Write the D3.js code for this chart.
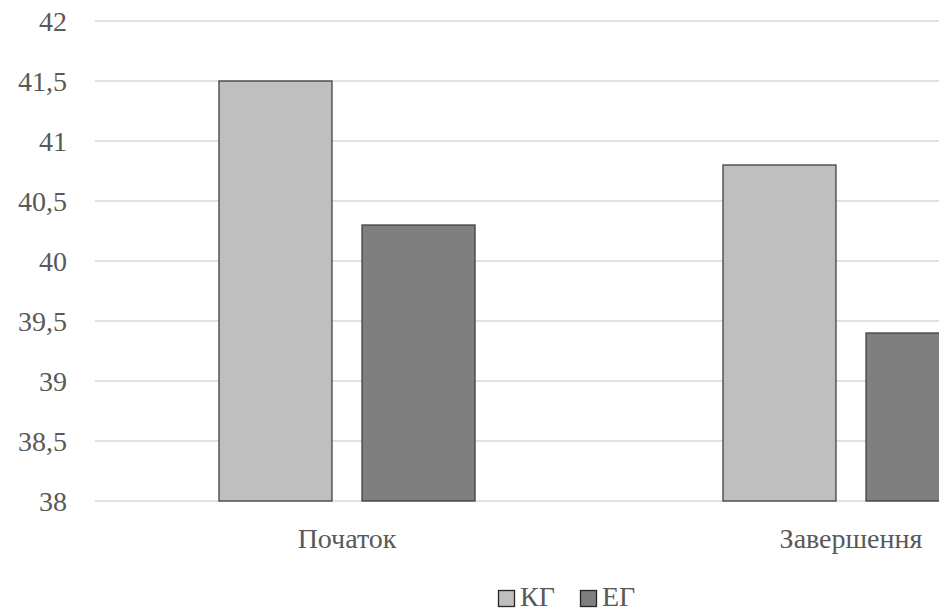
<!DOCTYPE html>
<html>
<head>
<meta charset="utf-8">
<script src="https://cdn.jsdelivr.net/npm/d3@7"></script>
<style>
  html, body { margin: 0; padding: 0; background: #fff; overflow: hidden; }
  svg { display: block; }
</style>
</head>
<body>
<svg id="chart" width="939" height="611"></svg>
<script>
// Measurement stages and groups
const categories = ["Початок", "Завершення"];
const seriesNames = ["КГ", "ЕГ"];
const kgValues = [41.5, 40.8];
const egValues = [40.3, 39.4];
const yTicks = [38, 38.5, 39, 39.5, 40, 40.5, 41, 41.5, 42];

const seriesColors = { "КГ": "#bfbfbf", "ЕГ": "#7f7f7f" };
const rows = categories.map((c, i) => ({ category: c, values: { "КГ": kgValues[i], "ЕГ": egValues[i] } }));

const FONT = "'Liberation Serif', 'Times New Roman', serif";
const TEXT_COLOR = "#595959";
const FONT_SIZE = 28;

const svg = d3.select("#chart");
const plot = { left: 95, right: 1103, top: 21, bottom: 501 };

const y = d3.scaleLinear().domain([38, 42]).range([plot.bottom, plot.top]);
const x0 = d3.scaleBand().domain(categories).range([plot.left, plot.right])
  .paddingInner(0.492).paddingOuter(0.246);
const x1 = d3.scaleBand().domain(seriesNames).range([0, x0.bandwidth()])
  .paddingInner(0.21).paddingOuter(0);

// Horizontal gridlines
svg.append("g")
  .selectAll("line")
  .data(yTicks)
  .join("line")
  .attr("x1", plot.left).attr("x2", plot.right)
  .attr("y1", d => y(d)).attr("y2", d => y(d))
  .attr("stroke", "#d9d9d9").attr("stroke-width", 1.3);

// Value axis labels
const yAxis = d3.axisLeft(y).tickValues(yTicks).tickSize(0).tickPadding(0)
  .tickFormat(d => String(d).replace(".", ","));
const gy = svg.append("g").attr("transform", "translate(67,0)").call(yAxis);
gy.select(".domain").remove();
gy.attr("font-family", FONT).attr("font-size", FONT_SIZE);
gy.selectAll("text").attr("fill", TEXT_COLOR).attr("dy", "0.34em");

// Bars
const groups = svg.append("g").selectAll("g")
  .data(rows).join("g")
  .attr("transform", d => `translate(${x0(d.category)},0)`);
groups.selectAll("rect")
  .data(d => seriesNames.map(s => ({ series: s, value: d.values[s] })))
  .join("rect")
  .attr("x", d => x1(d.series))
  .attr("width", x1.bandwidth())
  .attr("y", d => y(d.value))
  .attr("height", d => y(38) - y(d.value))
  .attr("fill", d => seriesColors[d.series])
  .attr("stroke", "#404040").attr("stroke-width", 1.3);

// Category axis labels
const xAxis = d3.axisBottom(x0).tickSize(0).tickPadding(0);
const gx = svg.append("g").attr("transform", `translate(0,${plot.bottom + 27})`).call(xAxis);
gx.select(".domain").remove();
gx.attr("font-family", FONT).attr("font-size", FONT_SIZE);
gx.selectAll("text").attr("fill", TEXT_COLOR).attr("dy", "0.71em");

// Legend
const legend = svg.append("g").attr("transform", "translate(498,590)")
  .attr("font-family", FONT).attr("font-size", FONT_SIZE);
const legendOffsets = [0, 82];
seriesNames.forEach((s, i) => {
  const item = legend.append("g").attr("transform", `translate(${legendOffsets[i]},0)`);
  item.append("rect").attr("x", 0.5).attr("y", 0.5).attr("width", 16).attr("height", 16)
    .attr("fill", seriesColors[s]).attr("stroke", "#262626").attr("stroke-width", 1.3);
  item.append("text").attr("x", 22).attr("y", 16).attr("fill", TEXT_COLOR).text(s);
});
</script>
</body>
</html>
